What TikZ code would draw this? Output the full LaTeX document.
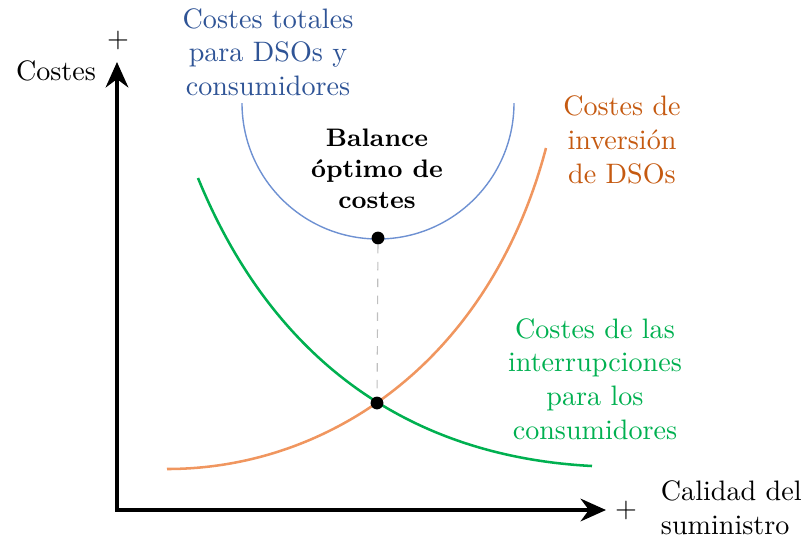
\documentclass[tikz,border=0pt]{standalone}
\usepackage{tikz}
\usetikzlibrary{positioning, arrows.meta, calc}
\definecolor{totalblue}  {RGB}{47, 84, 150}
\definecolor{totalline}  {RGB}{110, 145, 210}
\definecolor{invorange}  {RGB}{197, 90, 17}
\definecolor{invline}    {RGB}{240, 150, 95}
\definecolor{intgreen}   {RGB}{0, 176, 80}
\tikzset{
  % Axis arrows
  axis/.style={-{Stealth[length=9pt, width=8pt]}, line width=1.6pt},
  % Cost curves
  curve/.style={line width=0.9pt},
  % Curve labels
  lbl/.style={align=center, font=\normalsize},
  % Marked points
  dot/.style={circle, fill=black, inner sep=0pt, minimum size=0.16cm},
}

\begin{document}
\begin{tikzpicture}[x=0.0125cm, y=-0.0125cm]
  \useasboundingbox (0,0) rectangle (803,538);

  % axes
  \coordinate (o) at (117,510);
  \coordinate (ytip) at (117,62);
  \coordinate (xtip) at (606,510);
  \draw[axis] (o) -- (ytip);
  \draw[axis] (115,510) -- (xtip);
  \node (yplus) at (118,40) {+};
  \node (xplus) at (626,510) {+};
  \node (ylab) at (56,71) {Costes};
  \node[align=left, anchor=west] (xlab) at (651,508) {Calidad del\\suministro};

  % total costs
  \draw[totalline, line width=0.5pt] (242,103) arc[start angle=180, end angle=0, radius=136];
  \node[lbl, text=totalblue] (ltot) at (268,52) {Costes totales\\para DSOs y\\consumidores};

  % investment costs
  \draw[curve, invline] (167,469) .. controls (330,469) and (490,360) .. (546,148);
  \node[lbl, text=invorange] (linv) at (622,140) {Costes de\\inversi\'on\\de DSOs};

  % interruption costs
  \draw[curve, intgreen] (198,178) .. controls (260,330) and (380,455) .. (592,466);
  \node[lbl, text=intgreen] (lint) at (595,379) {Costes de las\\interrupciones\\para los\\consumidores};

  % optimum
  \node[dot] (opt) at (378,238) {};
  \node[dot] (cross) at (377,403) {};
  \draw[dashed, gray!50, line width=0.4pt] (opt) -- (cross);
  \node[align=center, font=\small\bfseries] (lopt) at (377,169) {Balance\\\'optimo de\\costes};
\end{tikzpicture}
\end{document}
